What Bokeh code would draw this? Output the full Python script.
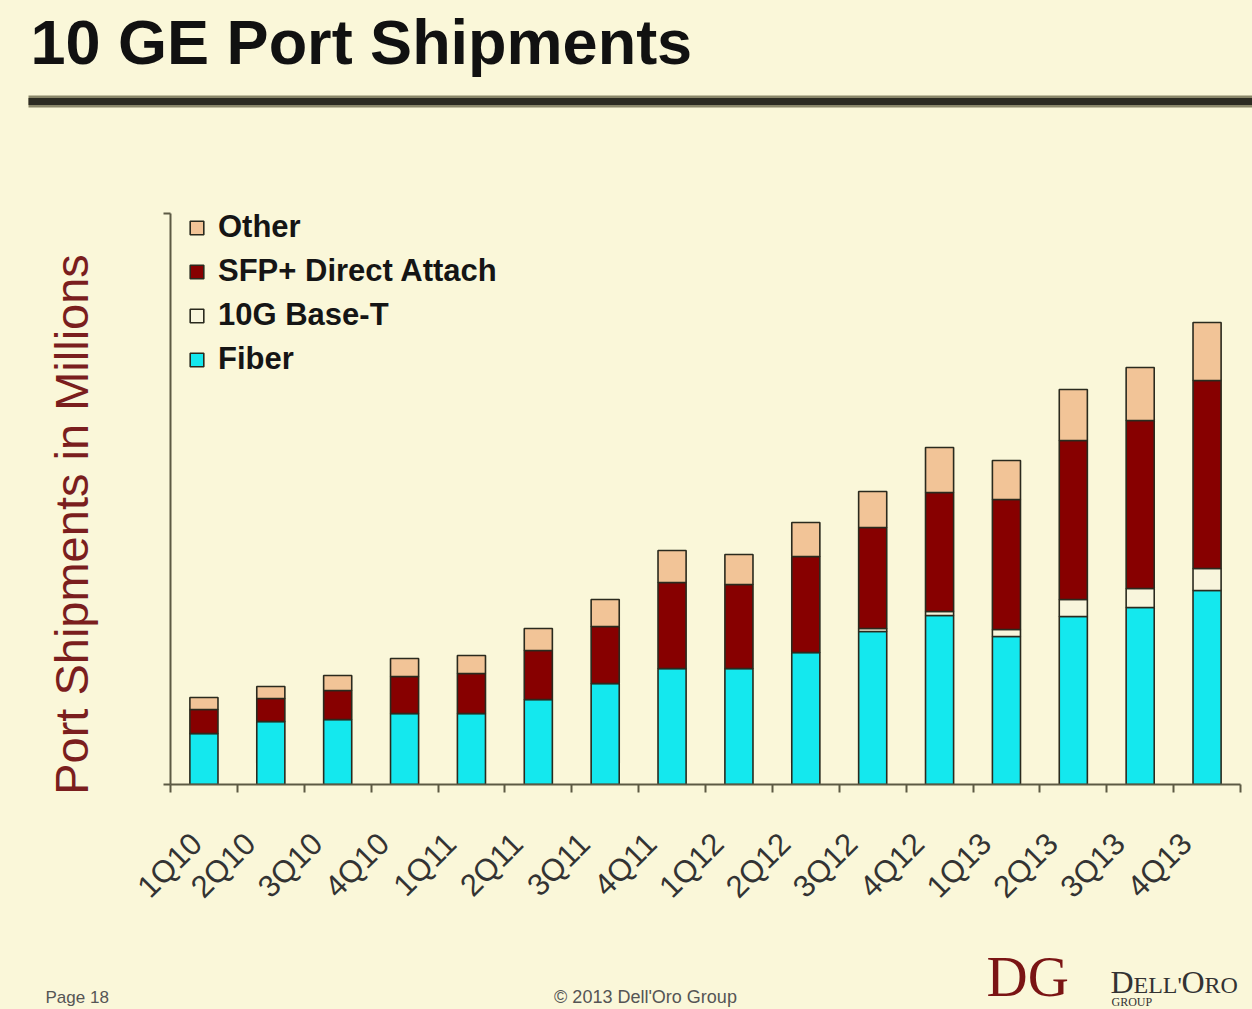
from math import pi
from bokeh.plotting import figure
from bokeh.layouts import column, row
from bokeh.models import (Range1d, FixedTicker, Label, BoxAnnotation, Legend,
                          LegendItem, ColumnDataSource)
from bokeh.embed import file_html
from bokeh.resources import INLINE

# ---------------- data (port shipments, millions) ----------------
quarters = ["1Q10", "2Q10", "3Q10", "4Q10", "1Q11", "2Q11", "3Q11", "4Q11",
            "1Q12", "2Q12", "3Q12", "4Q12", "1Q13", "2Q13", "3Q13", "4Q13"]
fiber  = [0.51, 0.63, 0.65, 0.71, 0.71, 0.85, 1.01, 1.16,
          1.16, 1.32, 1.53, 1.69, 1.48, 1.68, 1.77, 1.94]
base_t = [0.00, 0.00, 0.00, 0.00, 0.00, 0.00, 0.00, 0.00,
          0.00, 0.00, 0.03, 0.04, 0.07, 0.17, 0.19, 0.22]
sfp    = [0.24, 0.23, 0.29, 0.37, 0.40, 0.49, 0.57, 0.86,
          0.84, 0.96, 1.01, 1.19, 1.30, 1.59, 1.68, 1.88]
other  = [0.12, 0.12, 0.15, 0.18, 0.18, 0.22, 0.27, 0.32,
          0.30, 0.34, 0.36, 0.45, 0.39, 0.51, 0.53, 0.58]

series_keys  = ["fiber", "base_t", "sfp", "other"]
series_names = ["Fiber", "10G Base-T", "SFP+ Direct Attach", "Other"]
series_cols  = ["#14E8EE", "#F8F5DC", "#870000", "#F2C497"]

title_text = "10 GE Port Shipments"
y_title = "Port Shipments in Millions"

BG = "#FAF7D9"
AX = "#5c5a44"
FONT = "Liberation Sans"
SERIF = "Liberation Serif"

W = 1252
HEAD_H = 130
MID_H = 790
FOOT_H = 1009 - HEAD_H - MID_H   # 89
YLAB_W = 130
Y_TOP = 5.71                      # top of the drawn value axis


def blank(width, height):
    f = figure(width=width, height=height, title=None,
               x_range=Range1d(0, width), y_range=Range1d(height, 0),
               x_axis_location=None, y_axis_location=None,
               output_backend="svg", toolbar_location=None,
               min_border=0, background_fill_color=BG, border_fill_color=BG,
               outline_line_color=None)
    f.xgrid.visible = False
    f.ygrid.visible = False
    return f


def text_at(fig, x, baseline, text, size, **kw):
    # anchored by vertical middle, placed so the alphabetic baseline lands at `baseline`
    fig.add_layout(Label(x=x, y=baseline - 0.35 * size, text=text,
                         text_font_size=f"{size}px", text_baseline="middle", **kw))


# ---------------- header ----------------
head = blank(W, HEAD_H)
text_at(head, 30, 64, title_text, 63, text_font=FONT, text_font_style="bold",
        text_color="#111111")
head.add_layout(BoxAnnotation(left=28, right=W, top=95, bottom=107,
                              fill_color="#8a876a", fill_alpha=1, line_color=None))
head.add_layout(BoxAnnotation(left=28, right=W, top=97.5, bottom=104.5,
                              fill_color="#2c2b22", fill_alpha=1, line_color=None))

# ---------------- y title ----------------
ylab = blank(YLAB_W, MID_H)
ylab.add_layout(Label(x=71, y=524 - HEAD_H, text=y_title, angle=pi / 2,
                      text_align="center", text_baseline="middle",
                      text_font=FONT, text_font_size="47px", text_color="#7a1e1e"))

# ---------------- chart ----------------
xc = [i + 0.5 for i in range(len(quarters))]
label_ticks = [round(i + 0.19, 2) for i in range(len(quarters))]
source = ColumnDataSource(dict(x=xc, fiber=fiber, base_t=base_t, sfp=sfp, other=other))

p = figure(width=W - YLAB_W, height=MID_H,
           x_range=Range1d(0, len(quarters)), y_range=Range1d(0, 5.84),
           output_backend="svg", toolbar_location=None,
           min_border_left=40, min_border_right=12,
           min_border_top=70, min_border_bottom=136,
           background_fill_color=BG, border_fill_color=BG,
           outline_line_color=None)
p.xgrid.visible = False
p.ygrid.visible = False

rs = p.vbar_stack(series_keys, x="x", width=0.42, source=source,
                  fill_color=series_cols, line_color="#2a2a1e", line_width=1.6)

xa = p.xaxis[0]
xa.ticker = FixedTicker(ticks=label_ticks, minor_ticks=list(range(len(quarters) + 1)))
xa.major_label_overrides = {t: q for t, q in zip(label_ticks, quarters)}
xa.major_tick_in = 0
xa.major_tick_out = 0
xa.minor_tick_in = 0
xa.minor_tick_out = 8
xa.minor_tick_line_color = AX
xa.minor_tick_line_width = 2
xa.axis_line_color = AX
xa.axis_line_width = 2
xa.major_label_orientation = pi / 4
xa.major_label_standoff = 46
xa.major_label_text_font = FONT
xa.major_label_text_font_size = "31px"
xa.major_label_text_color = "#333333"

ya = p.yaxis[0]
ya.ticker = FixedTicker(ticks=[0, Y_TOP])
ya.bounds = (0, Y_TOP)
ya.major_label_overrides = {0: "", Y_TOP: ""}
ya.major_tick_in = 0
ya.major_tick_out = 7
ya.major_tick_line_color = AX
ya.major_tick_line_width = 2
ya.minor_tick_line_color = None
ya.axis_line_color = AX
ya.axis_line_width = 2

items = [LegendItem(label=series_names[i], renderers=[rs[i]]) for i in (3, 2, 1, 0)]
legend = Legend(items=items, location=(18, 407),
                label_text_font=FONT, label_text_font_style="bold",
                label_text_font_size="31px", label_text_color="#151515",
                glyph_width=17, glyph_height=17, label_standoff=13,
                spacing=8, padding=0, margin=0,
                border_line_color=None, background_fill_alpha=0)
p.add_layout(legend)

# ---------------- footer ----------------
F0 = HEAD_H + MID_H   # page y of footer top
foot = blank(W, FOOT_H)
text_at(foot, 45, 1003 - F0, "Page 18", 17, text_font=FONT, text_color="#555555")
text_at(foot, 645, 1003 - F0, "\u00a9 2013 Dell'Oro Group", 18, text_font=FONT,
        text_color="#555555", text_align="center")
text_at(foot, 986, 996 - F0, "DG", 57, text_font=SERIF, text_color="#7a1414")
for txt, xx, fs in [("D", 1110, 32), ("ELL'", 1133, 24), ("O", 1181, 32), ("RO", 1204, 24)]:
    text_at(foot, xx, 993 - F0, txt, fs, text_font=SERIF, text_color="#333333")
text_at(foot, 1111, 1006 - F0, "GROUP", 12, text_font=SERIF, text_color="#333333")

layout = column(head, row(column(ylab), column(p), spacing=0), foot, spacing=0)
html = file_html(layout, INLINE)
style = f"<style>html, body {{ margin: 0; padding: 0; background: {BG}; }}</style>"
html = html.replace("</head>", style + "</head>", 1)
open("out.html", "w").write(html)
